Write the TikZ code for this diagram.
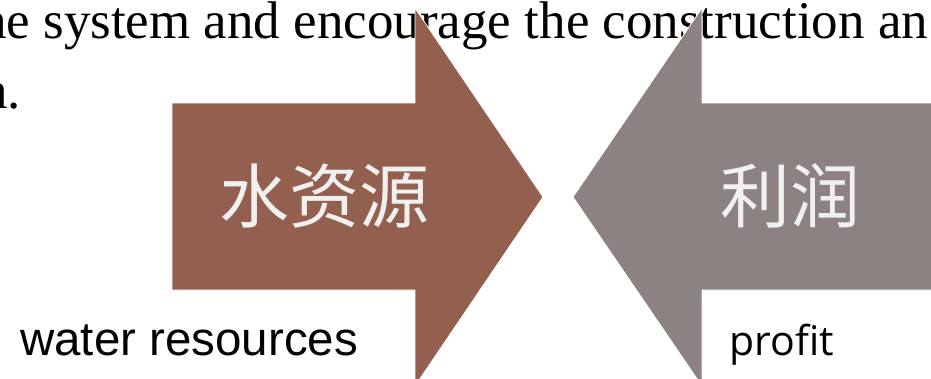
\documentclass[tikz,border=0pt]{standalone}
\usepackage{fontspec}
\setmainfont{Liberation Serif}
\newfontfamily\labelfont{Liberation Sans}
\newfontfamily\cjkfont{Noto Sans CJK SC}
\newfontfamily\profitfont{Open Sans}
\definecolor{waterbrown}{RGB}{147,96,80}
\definecolor{profitgray}{RGB}{141,130,130}

\begin{document}
\begin{tikzpicture}[x=1pt,y=-1pt,
    bodytext/.style={anchor=base west,inner sep=0,font=\fontsize{53}{53}\selectfont},
    blockarrow/.style={draw=white,line width=0.8,line join=miter},
    cjklabel/.style={inner sep=0,text=white!94!black,font=\cjkfont\fontsize{70}{70}\selectfont},
    caption/.style={anchor=base west,inner sep=0}
    ]
    \def\Bt{103}  % shaft top
    \def\Bb{290}  % shaft bottom
    \def\Ht{8}    % head top
    \def\Hb{386}  % head bottom
    \def\Ty{197}  % tip height

    \clip (0,0) rectangle (931,378);
    \fill[white] (0,0) rectangle (931,378);

    % running text behind the arrows
    \node[bodytext] (line1) at (-20,38) {he system and encourage the construction an};
    \node[bodytext] (line2) at (-19,108) {n.};

    % right arrow
    \coordinate (wtip) at (543,\Ty);
    \draw[blockarrow,fill=waterbrown] (172,\Bt) -- (415,\Bt) -- (415,\Ht) -- (wtip)
        -- (415,\Hb) -- (415,\Bb) -- (172,\Bb) -- cycle;
    % left arrow
    \coordinate (ptip) at (573,\Ty);
    \draw[blockarrow,fill=profitgray] (940,\Bt) -- (702,\Bt) -- (702,\Ht) -- (ptip)
        -- (702,\Hb) -- (702,\Bb) -- (940,\Bb) -- cycle;

    \node[cjklabel] (water) at (324,196) {水资源};
    \node[cjklabel] (profit) at (790,196) {利润};

    \node[caption,font=\labelfont\fontsize{47.5}{47.5}\selectfont] (watertxt) at (20,355) {water resources};
    \node[caption,font=\profitfont\fontsize{41}{41}\selectfont] (profittxt) at (729,355) {profit};
\end{tikzpicture}
\end{document}
